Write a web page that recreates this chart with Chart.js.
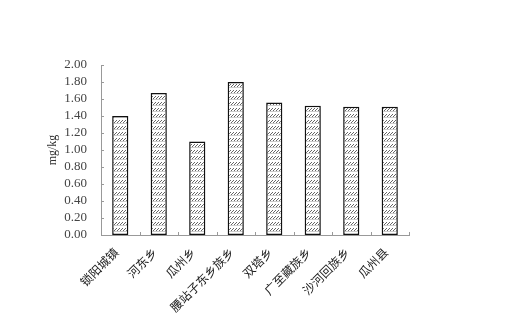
<!DOCTYPE html>
<html>
<head>
<meta charset="utf-8">
<script src="https://cdn.jsdelivr.net/npm/chart.js@4.4.1/dist/chart.umd.min.js"></script>
<style>
  html, body { margin: 0; padding: 0; background: #fff; }
  #wrap { width: 531px; height: 336px; }
</style>
</head>
<body>
<div id="wrap"><canvas id="mainChart" width="531" height="336"></canvas></div>
<script>
// 数据
const categories = ['锁阳城镇', '河东乡', '瓜州乡', '腰站子东乡族乡', '双塔乡', '广至藏族乡', '沙河回族乡', '瓜州县'];
const values = [1.40, 1.67, 1.10, 1.80, 1.56, 1.52, 1.51, 1.51];
const yTicks = [0, 0.2, 0.4, 0.6, 0.8, 1.0, 1.2, 1.4, 1.6, 1.8, 2.0];

// 斜线填充
function makeHatch() {
  const c = document.createElement('canvas');
  c.width = 3;
  c.height = 6;
  const g = c.getContext('2d');
  g.fillStyle = '#fff';
  g.fillRect(0, 0, 3, 6);
  g.fillStyle = '#666';
  g.fillRect(0, 2, 1, 1);
  g.fillRect(1, 1, 1, 1);
  g.fillRect(2, 0, 1, 1);
  g.fillStyle = '#ccc';
  g.fillRect(0, 3, 3, 1);
  return g.createPattern(c, 'repeat');
}

// 刻度线朝内
const innerTicks = {
  id: 'innerTicks',
  afterDatasetsDraw(chart) {
    const { ctx, chartArea, scales } = chart;
    ctx.save();
    ctx.strokeStyle = '#999';
    ctx.lineWidth = 1;
    ctx.beginPath();
    yTicks.forEach(v => {
      const y = Math.round(scales.y.getPixelForValue(v)) + 0.5;
      ctx.moveTo(chartArea.left, y);
      ctx.lineTo(chartArea.left + 3, y);
    });
    const step = scales.x.width / categories.length;
    for (let i = 1; i <= categories.length; i++) {
      const x = Math.round(chartArea.left + i * step) + 0.5;
      ctx.moveTo(x, chartArea.bottom);
      ctx.lineTo(x, chartArea.bottom - 3);
    }
    ctx.stroke();
    ctx.restore();
  }
};

const ctx = document.getElementById('mainChart').getContext('2d');
const serif = '"Liberation Serif", "Noto Sans CJK SC", serif';

new Chart(ctx, {
  type: 'bar',
  data: {
    labels: categories,
    datasets: [{
      data: values,
      backgroundColor: makeHatch(),
      borderColor: '#111',
      borderWidth: 1.5,
      borderSkipped: false,
      categoryPercentage: 1,
      barPercentage: 0.42
    }]
  },
  options: {
    responsive: false,
    animation: false,
    devicePixelRatio: 1,
    layout: { padding: { top: 65, right: 122, left: 40, bottom: 0 } },
    plugins: { legend: { display: false }, tooltip: { enabled: false } },
    scales: {
      x: {
        grid: { display: false, drawTicks: false },
        border: { color: '#999' },
        ticks: {
          color: '#222',
          font: { family: '"Noto Sans CJK SC", sans-serif', size: 12 },
          minRotation: 45,
          maxRotation: 45,
          autoSkip: false,
          labelOffset: -4,
          padding: 10
        },
        afterFit: s => { s.height = 101; }
      },
      y: {
        min: 0,
        max: 2,
        afterBuildTicks: s => { s.ticks = yTicks.map(v => ({ value: v })); },
        grid: { display: false, drawTicks: false },
        border: { color: '#999' },
        ticks: {
          color: '#444',
          font: { family: serif, size: 13 },
          padding: 14,
          autoSkip: false,
          callback: v => v.toFixed(2)
        },
        title: {
          display: true,
          text: 'mg/kg',
          color: '#333',
          font: { family: serif, size: 12 },
          padding: { top: 6, bottom: 0 }
        },
        afterFit: s => { s.width = 61; }
      }
    }
  },
  plugins: [innerTicks]
});
</script>
</body>
</html>
